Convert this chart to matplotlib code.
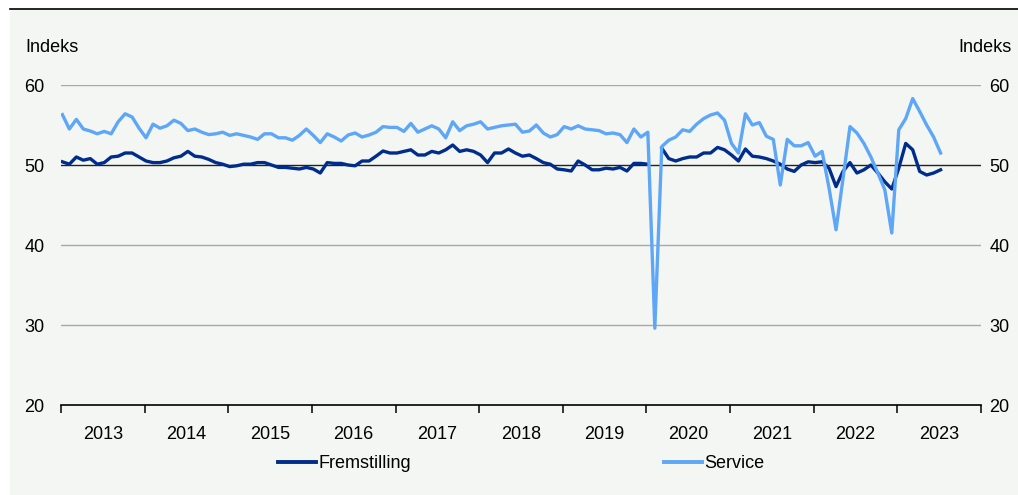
import numpy as np
import matplotlib
matplotlib.use('Agg')
import matplotlib.pyplot as plt
from matplotlib.patches import Rectangle
from matplotlib.lines import Line2D

plt.rcParams['font.family'] = ['Liberation Sans', 'DejaVu Sans']
plt.rcParams['font.size'] = 13

# månedlige indeks, jan 2013 og frem
fremstilling = [
    50.4, 50.1, 51.0, 50.6, 50.8, 50.1, 50.3, 51.0, 51.1, 51.5, 51.5, 51.0,
    50.5, 50.3, 50.3, 50.5, 50.9, 51.1, 51.7, 51.1, 51.0, 50.7, 50.3, 50.1,
    49.8, 49.9, 50.1, 50.1, 50.3, 50.3, 50.0, 49.7, 49.7, 49.6, 49.5, 49.7,
    49.5, 49.0, 50.3, 50.2, 50.2, 50.0, 49.9, 50.5, 50.5, 51.1, 51.75, 51.5,
    51.5, 51.7, 51.9, 51.25, 51.25, 51.7, 51.5, 51.9, 52.5, 51.7, 51.9, 51.7,
    51.25, 50.3, 51.5, 51.5, 52.0, 51.5, 51.1, 51.25, 50.8, 50.3, 50.1, 49.5,
    49.4, 49.25, 50.5, 50.0, 49.4, 49.4, 49.6, 49.5, 49.7, 49.25, 50.2, 50.2,
    50.1, np.nan, 52.1, 50.8, 50.5, 50.8, 51.0, 51.0, 51.5, 51.5, 52.2, 51.9,
    51.25, 50.5, 52.0, 51.1, 51.0, 50.8, 50.5, 50.1, 49.5, 49.2, 50.0, 50.4,
    50.3, 50.4, 49.6, 47.3, 49.2, 50.3, 49.0, 49.4, 50.0, 49.0, 47.9, 47.0,
    49.6, 52.7, 51.9, 49.2, 48.75, 49.0, 49.4,
]
service = [
    56.3, 54.5, 55.7, 54.5, 54.25, 53.9, 54.2, 53.9, 55.4, 56.4, 56.0, 54.6,
    53.4, 55.1, 54.6, 54.9, 55.6, 55.2, 54.3, 54.5, 54.1, 53.8, 53.9, 54.1,
    53.7, 53.9, 53.7, 53.5, 53.2, 53.9, 53.9, 53.4, 53.4, 53.1, 53.7, 54.5,
    53.7, 52.8, 53.9, 53.5, 53.0, 53.75, 54.0, 53.5, 53.75, 54.1, 54.8, 54.7,
    54.7, 54.2, 55.2, 54.1, 54.5, 54.9, 54.5, 53.4, 55.4, 54.3, 54.9, 55.1,
    55.4, 54.5, 54.7, 54.9, 55.0, 55.1, 54.1, 54.25, 55.0, 54.0, 53.5, 53.8,
    54.8, 54.5, 54.9, 54.5, 54.4, 54.3, 53.9, 54.0, 53.8, 52.8, 54.5, 53.5,
    54.1, 29.6, 52.3, 53.1, 53.5, 54.4, 54.2, 55.1, 55.8, 56.25, 56.5, 55.6,
    52.7, 51.5, 56.4, 55.0, 55.3, 53.6, 53.2, 47.5, 53.2, 52.4, 52.4, 52.8,
    51.1, 51.7, 47.1, 41.9, 48.3, 54.8, 54.0, 52.7, 51.0, 49.0, 46.9, 41.5,
    54.4, 55.8, 58.3, 56.7, 55.0, 53.5, 51.5,
]
years = list(range(2013, 2024))
yticks = [20, 30, 40, 50, 60]

dark_blue = '#002d8c'
light_blue = '#5ea6f6'
bg = '#f4f6f4'

fig = plt.figure(figsize=(10.18, 4.95), dpi=100)
fig.patch.set_facecolor('white')
top = 1 - 9 / 495
fig.patches.append(Rectangle((10 / 1018, 0), 1 - 10 / 1018, top, transform=fig.transFigure,
                             facecolor=bg, edgecolor='none', zorder=-5))
fig.lines.append(Line2D([10 / 1018, 1], [top, top], transform=fig.transFigure,
                        color='black', lw=1.2))

ax = fig.add_axes([61 / 1018, 90 / 495, 920 / 1018, 320 / 495])
ax.set_facecolor('none')

# punkterne ligger lidt inde i måneden
x = np.arange(len(service)) + 0.2
ax.plot(x, fremstilling, color=dark_blue, lw=2.4, solid_joinstyle='round', zorder=3)
ax.plot(x, service, color=light_blue, lw=2.4, solid_joinstyle='round', zorder=4)

ax.set_xlim(0, 12 * len(years))
ax.set_ylim(20, 60)

for v in yticks[1:]:
    if v == 50:
        ax.axhline(v, color='#222222', lw=1.0, zorder=2)
    else:
        ax.axhline(v, color='#a8a8a8', lw=1.0, zorder=1)

for s in ['left', 'right', 'top']:
    ax.spines[s].set_visible(False)
ax.spines['bottom'].set_linewidth(1.2)

# årsgrænser som streger, årstal midt i året
ax.set_xticks(np.arange(0, 12 * len(years) + 1, 12))
ax.set_xticklabels([])
ax.set_xticks(np.arange(6, 12 * len(years), 12), minor=True)
ax.set_xticklabels([str(y) for y in years], minor=True)
ax.tick_params(axis='x', which='major', direction='out', length=6, width=1.1, color='black')
ax.tick_params(axis='x', which='minor', length=0, pad=15, labelsize=13)

ax.set_yticks(yticks)
ax.tick_params(axis='y', length=0, pad=12, labelsize=13)

ax2 = ax.twinx()
ax2.set_ylim(ax.get_ylim())
ax2.set_yticks(yticks)
ax2.tick_params(axis='y', length=0, pad=6, labelsize=13)
for s in ax2.spines.values():
    s.set_visible(False)

fig.text(25 / 1018, 1 - 48 / 495, 'Indeks', ha='left', va='center', fontsize=13)
fig.text(1012 / 1018, 1 - 48 / 495, 'Indeks', ha='right', va='center', fontsize=13)

handles = [Line2D([], [], color=dark_blue, lw=2.8), Line2D([], [], color=light_blue, lw=2.8)]
fig.legend(handles, ['Fremstilling', 'Service'], loc='center', ncol=2,
           bbox_to_anchor=(521 / 1018, 1 - 464 / 495), frameon=False,
           handlelength=2.1, handletextpad=0.15, columnspacing=14.0, fontsize=13)

fig.savefig('out.png', dpi=100)
